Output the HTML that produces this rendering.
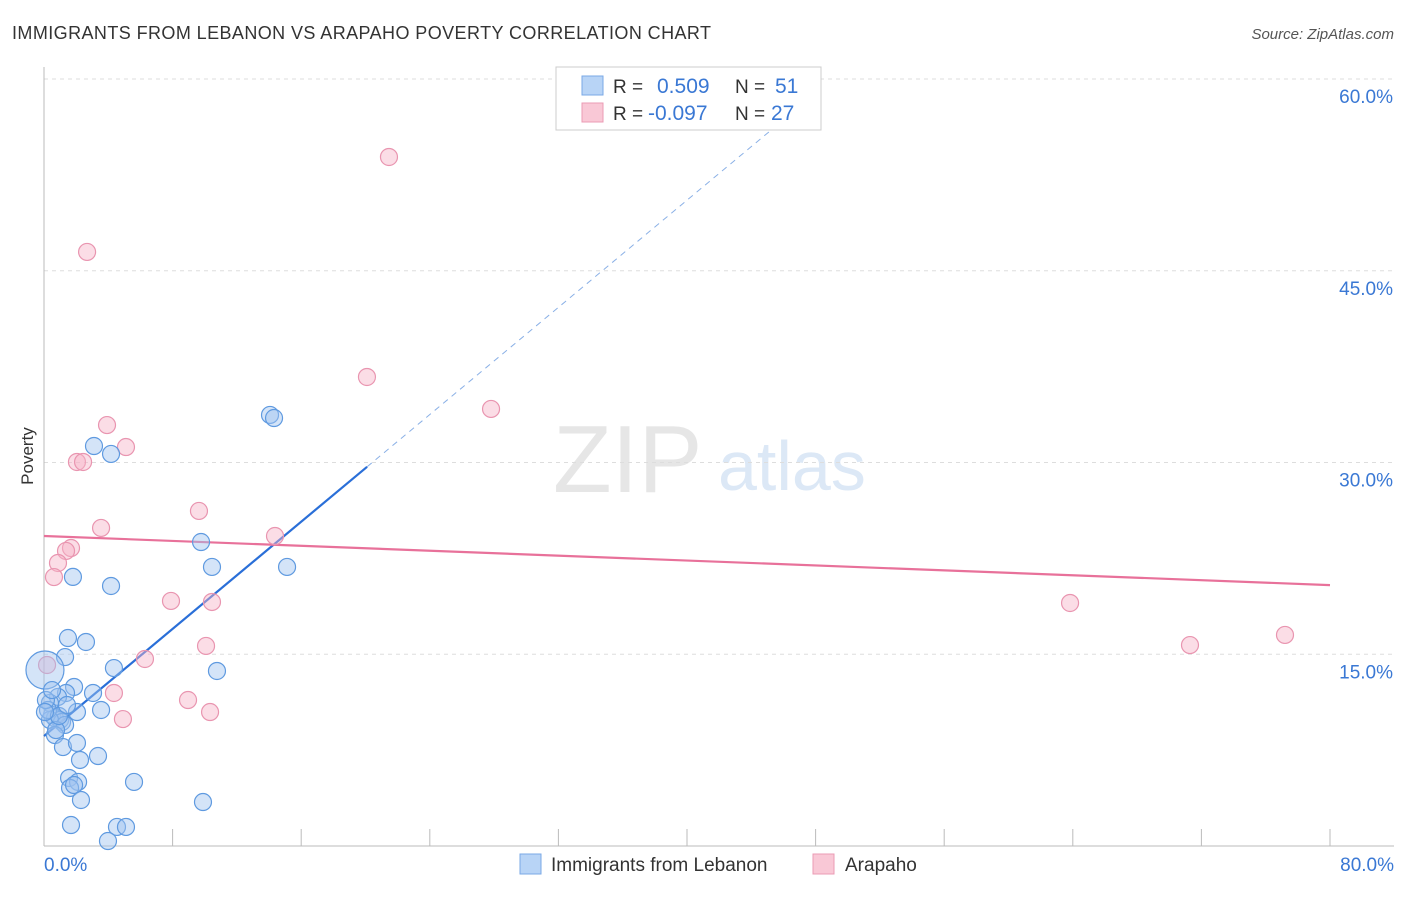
<!DOCTYPE html>
<html><head><meta charset="utf-8"><style>
body{margin:0;background:#fff;font-family:"Liberation Sans",sans-serif;}
svg text{font-family:"Liberation Sans",sans-serif;}
</style></head><body>
<svg id="c" width="1406" height="892" xmlns="http://www.w3.org/2000/svg">
<text x="12" y="39" font-size="18" fill="#333" textLength="699" lengthAdjust="spacing">IMMIGRANTS FROM LEBANON VS ARAPAHO POVERTY CORRELATION CHART</text>
<text x="1394" y="39" font-size="15" fill="#555" font-style="italic" text-anchor="end">Source: ZipAtlas.com</text>
<text x="33" y="456" font-size="17" fill="#333" transform="rotate(-90 33 456)" text-anchor="middle">Poverty</text>
<text x="553" y="492" font-size="96" fill="#e6e6e6" font-family="Liberation Serif">ZIP</text>
<text x="718" y="490" font-size="70" fill="#dce8f6">atlas</text>
<g id="grid"></g><g id="axes"></g><g id="trend"></g><g id="pts"></g>
<g>
<rect x="556" y="67" width="265" height="63" fill="#fff" stroke="#ccc"/>
<rect x="582" y="76" width="21" height="19" fill="#b8d4f6" stroke="#7aa8e6"/>
<rect x="582" y="103" width="21" height="19" fill="#f9c8d6" stroke="#eb9bb4"/>
<text x="613" y="93" font-size="19" fill="#333">R = </text><text x="657" y="93" font-size="21" fill="#3a78d4">0.509</text>
<text x="735" y="93" font-size="19" fill="#333">N = </text><text x="775" y="93" font-size="21" fill="#3a78d4">51</text>
<text x="613" y="120" font-size="19" fill="#333">R = </text><text x="648" y="120" font-size="21" fill="#3a78d4">-0.097</text>
<text x="735" y="120" font-size="19" fill="#333">N = </text><text x="771" y="120" font-size="21" fill="#3a78d4">27</text>
</g>
<g>
<rect x="520" y="854" width="21" height="20" fill="#b8d4f6" stroke="#7aa8e6"/>
<text x="551" y="871" font-size="19" fill="#333">Immigrants from Lebanon</text>
<rect x="813" y="854" width="21" height="20" fill="#f9c8d6" stroke="#eb9bb4"/>
<text x="845" y="871" font-size="19" fill="#333">Arapaho</text>
</g>
</svg>
<script>
const blueX=[14.06,14.31,3.11,4.17,9.77,10.45,15.12,1.80,4.17,1.49,2.61,1.31,4.35,10.76,0.06,1.87,1.37,0.87,3.05,3.55,2.05,0.37,0.50,0.68,1.00,1.12,0.37,1.31,0.68,1.18,2.05,3.36,2.24,1.56,2.12,1.62,1.87,2.30,5.60,9.89,1.68,4.54,5.10,3.98,0.25,0.12,0.75,0.93,0.06,1.43,0.50];
const blueY=[33.72,33.48,31.29,30.67,23.78,21.83,21.83,21.05,20.34,16.27,15.96,14.78,13.92,13.69,13.77,12.44,11.97,11.66,11.97,10.64,10.48,11.19,10.25,10.01,9.86,9.70,9.86,9.47,8.68,7.74,8.06,7.04,6.73,5.32,5.01,4.54,4.77,3.60,5.01,3.44,1.64,1.49,1.49,0.39,10.64,11.42,9.07,10.17,10.48,11.03,12.20];
const pinkX=[21.46,2.68,20.09,27.81,3.92,5.10,2.05,2.43,3.55,9.64,14.37,1.68,1.37,0.87,0.62,7.90,10.45,63.83,10.08,6.28,71.29,77.20,4.35,8.96,10.33,4.91,0.19];
const pinkY=[53.90,46.47,36.69,34.19,32.93,31.21,30.04,30.04,24.88,26.21,24.25,23.31,23.08,22.14,21.04,19.17,19.09,19.01,15.65,14.63,15.72,16.51,11.97,11.42,10.48,9.93,14.16];
const blueTrend=[8.6,1.048];
const pinkTrend=[24.25,-0.048];
const yTicks=[15,30,45,60];
const yTickLabels=["15.0%","30.0%","45.0%","60.0%"];
const xTicks=[0,8,16,24,32,40,48,56,64,72,80];
const NS="http://www.w3.org/2000/svg";
const sx=v=>44+v*1286/80, sy=v=>846-v*767/60;
function mk(p,t,a){const e=document.createElementNS(NS,t);for(const k in a)e.setAttribute(k,a[k]);document.getElementById(p).appendChild(e);return e;}
yTicks.forEach((t,i)=>{
 const g=mk('grid','line',{x1:44,x2:1394,y1:sy(t),y2:sy(t),stroke:'#ddd','stroke-dasharray':'4,4'});
 
 
 const l=mk('grid','text',{x:1393,y:sy(t)+24,'font-size':19,fill:'#3a78d4','text-anchor':'end'});l.textContent=yTickLabels[i];
 
 
});
mk('axes','line',{x1:44,x2:44,y1:67,y2:846,stroke:'#bbb'});
mk('axes','line',{x1:44,x2:1394,y1:846,y2:846,stroke:'#bbb'});
xTicks.forEach(t=>{const e=mk('axes','line',{x1:sx(t),x2:sx(t),y1:829,y2:846,stroke:'#bbb'});
 
 });
let a=mk('axes','text',{x:44,y:871,'font-size':19,fill:'#3a78d4'});a.textContent='0.0%';


a=mk('axes','text',{x:1394,y:871,'font-size':19,fill:'#3a78d4','text-anchor':'end'});a.textContent='80.0%';


let bx1=20.1,bx2=48.3;
let t1=mk('trend','line',{x1:sx(0),y1:sy(blueTrend[0]),x2:sx(bx1),y2:sy(blueTrend[0]+blueTrend[1]*bx1),stroke:'#2a6fd8','stroke-width':2.2});


let t2=mk('trend','line',{x1:sx(bx1),y1:sy(blueTrend[0]+blueTrend[1]*bx1),x2:sx(bx2),y2:sy(blueTrend[0]+blueTrend[1]*bx2),stroke:'#8ab0e6','stroke-width':1,'stroke-dasharray':'6,5'});


let t3=mk('trend','line',{x1:sx(0),y1:sy(pinkTrend[0]),x2:sx(80),y2:sy(pinkTrend[0]+pinkTrend[1]*80),stroke:'#e8719a','stroke-width':2.2});


pinkX.forEach((x,i)=>{const c=mk('pts','circle',{cx:sx(x),cy:sy(pinkY[i]),r:8.5,fill:'rgba(246,180,200,0.45)',stroke:'#e995b0','stroke-width':1.2});
 
 });
blueX.forEach((x,i)=>{const c=mk('pts','circle',{cx:sx(x),cy:sy(blueY[i]),r:i==14?19:8.5,fill:'rgba(160,196,240,0.45)',stroke:'#5f9ae0','stroke-width':1.2});
 
 });
</script>
</body></html>
